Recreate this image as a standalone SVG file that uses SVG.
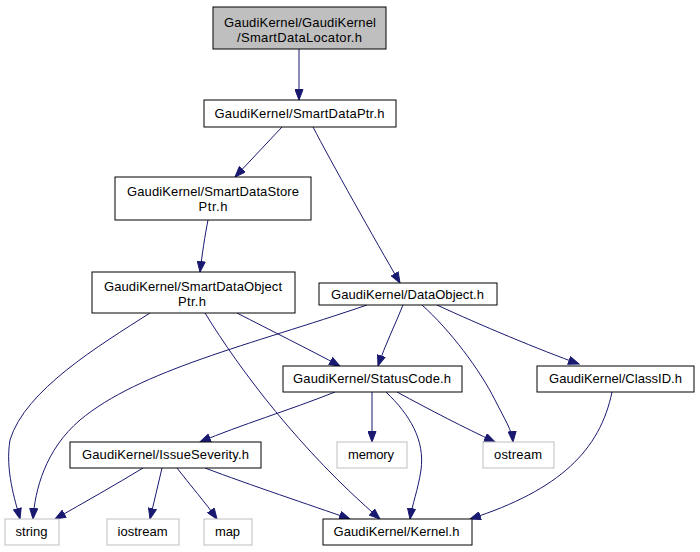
<svg xmlns="http://www.w3.org/2000/svg" width="700" height="552" viewBox="0 0 700 552">
<style>
.n rect{fill:#fff;stroke:#000;stroke-width:1}
.g rect{fill:#fff;stroke:#bfbfbf;stroke-width:1}
#n1 rect{fill:#bfbfbf;stroke:#000}
text{font-family:"Liberation Sans",Arial,sans-serif;font-size:13px;fill:#000;text-anchor:middle}
#edges path{fill:none;stroke:#191970;stroke-width:1;marker-end:url(#a)}
</style>
<defs>
<marker id="a" markerUnits="userSpaceOnUse" markerWidth="12" markerHeight="9" refX="11" refY="4.5" orient="auto">
<path d="M0.5,0.5 L11,4.5 L0.5,8.5 z" fill="#191970" stroke="#191970" stroke-width="1"/>
</marker>
</defs>
<rect width="700" height="552" fill="#fff"/>
<g id="edges">
<path d="M299,49 L299,100"/>
<path d="M282,127 L235,177"/>
<path d="M313,127 C330,160 375,240 400,283"/>
<path d="M208,220 C205,235 202,255 200,272"/>
<path d="M150,313 C100,345 25,390 10,440 C5,470 15,500 20,519"/>
<path d="M237,313 C270,330 310,350 340,366"/>
<path d="M205,313 C240,370 300,450 380,519"/>
<path d="M367,305 C250,345 140,370 80,420 C45,450 35,490 33,519"/>
<path d="M403,305 C395,325 385,345 378,366"/>
<path d="M422,305 C450,330 480,370 495,400 C505,420 512,430 513,442"/>
<path d="M437,305 C480,325 540,350 579,364"/>
<path d="M335,392 C290,410 240,425 200,442"/>
<path d="M372,392 L372,442"/>
<path d="M386,392 C410,415 425,440 421,470 C418,490 412,505 410,519"/>
<path d="M397,392 C430,410 465,428 495,442"/>
<path d="M612,392 C600,450 560,490 470,519"/>
<path d="M143,468 C115,485 85,502 55,519"/>
<path d="M162,468 C158,485 154,502 150,519"/>
<path d="M177,468 C190,485 205,502 217,519"/>
<path d="M205,468 C250,485 310,505 350,519"/>
</g>
<g id="n1" class="n"><rect x="213" y="7" width="173" height="42"/><text x="300" y="27" textLength="152">GaudiKernel/GaudiKernel</text><text x="299.5" y="42" textLength="125">/SmartDataLocator.h</text></g>
<g id="n2" class="n"><rect x="204" y="100" width="192" height="27"/><text x="299.5" y="118" textLength="170">GaudiKernel/SmartDataPtr.h</text></g>
<g id="n3" class="n"><rect x="115" y="177" width="196" height="43"/><text x="213" y="196" textLength="172">GaudiKernel/SmartDataStore</text><text x="213" y="211" textLength="29">Ptr.h</text></g>
<g id="n4" class="n"><rect x="92" y="272" width="203" height="41"/><text x="193" y="291" textLength="178">GaudiKernel/SmartDataObject</text><text x="192" y="306" textLength="28">Ptr.h</text></g>
<g id="n5" class="n"><rect x="319" y="283" width="178" height="22"/><text x="407.5" y="299" textLength="153">GaudiKernel/DataObject.h</text></g>
<g id="n6" class="n"><rect x="283" y="366" width="179" height="26"/><text x="372" y="383" textLength="158">GaudiKernel/StatusCode.h</text></g>
<g id="n7" class="n"><rect x="537" y="366" width="157" height="26"/><text x="615.5" y="383" textLength="133">GaudiKernel/ClassID.h</text></g>
<g id="n8" class="n"><rect x="70" y="442" width="191" height="26"/><text x="165.5" y="459" textLength="167">GaudiKernel/IssueSeverity.h</text></g>
<g id="n9" class="g"><rect x="5" y="519" width="54" height="26"/><text x="31.5" y="536" textLength="32">string</text></g>
<g id="n10" class="g"><rect x="107" y="519" width="72" height="26"/><text x="142.5" y="536" textLength="50">iostream</text></g>
<g id="n11" class="g"><rect x="204" y="519" width="48" height="26"/><text x="227.5" y="536" textLength="25">map</text></g>
<g id="n12" class="n"><rect x="323" y="519" width="149" height="26"/><text x="396.5" y="536" textLength="126">GaudiKernel/Kernel.h</text></g>
<g id="n13" class="g"><rect x="337" y="442" width="70" height="26"/><text x="371" y="459" textLength="46">memory</text></g>
<g id="n14" class="g"><rect x="483" y="442" width="71" height="26"/><text x="518" y="459" textLength="48">ostream</text></g>
</svg>
